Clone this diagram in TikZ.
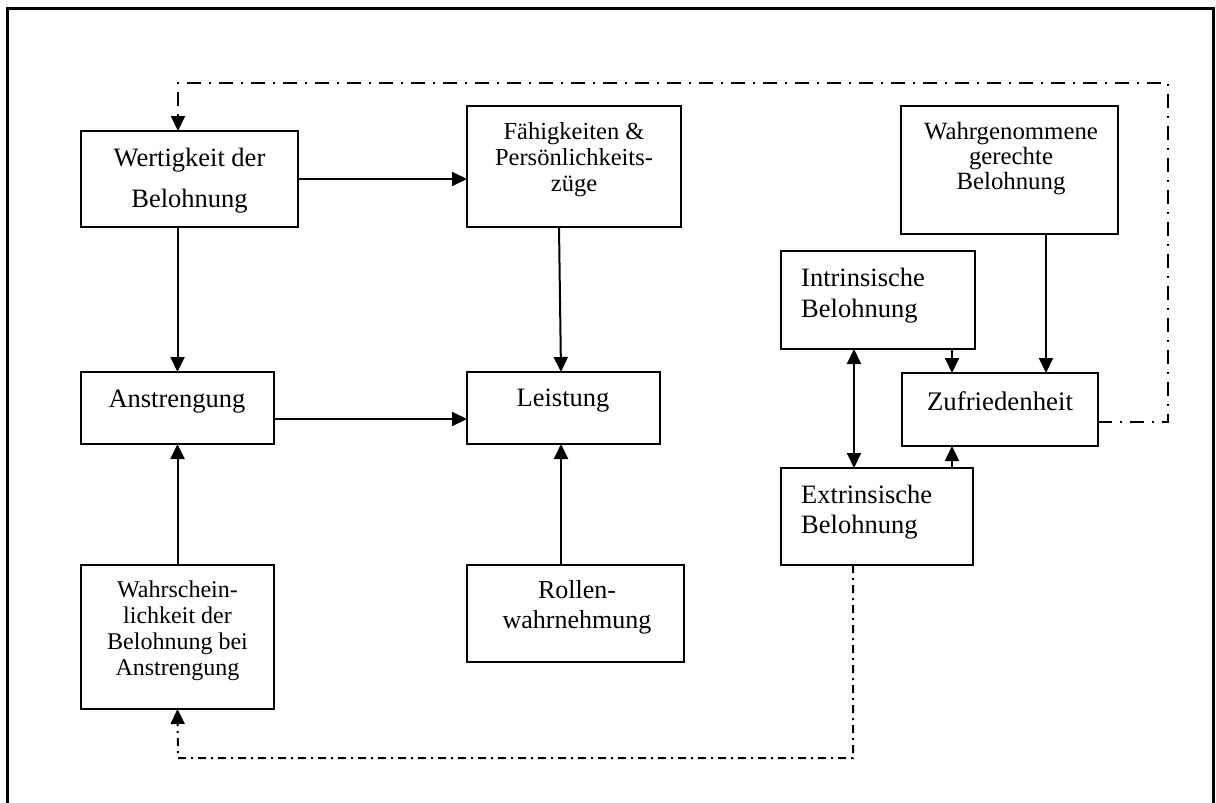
\documentclass[tikz,border=0pt]{standalone}
\usepackage{fontspec}
\setmainfont{Liberation Serif}
\usetikzlibrary{arrows.meta}
\begin{document}
\begin{tikzpicture}[x=1pt,y=-1pt,
  box/.style={draw,line width=2.4pt,rectangle,inner sep=0pt,outer sep=0pt},
  big/.style={inner sep=0pt,align=center,font=\fontsize{26.5}{30}\selectfont},
  small/.style={inner sep=0pt,align=center,font=\fontsize{24.5}{26}\selectfont},
  arr/.style={line width=2pt,-{Triangle[length=15pt,width=14pt]}},
  dbl/.style={line width=2pt,{Triangle[length=15pt,width=14pt]}-{Triangle[length=15pt,width=14pt]}},
  ddtop/.style={line width=2pt,dash pattern=on 14pt off 8pt on 2pt off 8pt},
  ddbot/.style={line width=2pt,dash pattern=on 8pt off 5pt on 2pt off 5pt}]
\useasboundingbox (0,0) rectangle (1216,803);
\draw[line width=3pt] (7.5,840) -- (7.5,8.5) -- (1213.5,8.5) -- (1213.5,840);

% boxes
\node[box,minimum width=217pt,minimum height=96pt] (wert) at (189.5,179) {};
\node[box,minimum width=214pt,minimum height=121pt] (faeh) at (574,166.5) {};
\node[box,minimum width=217pt,minimum height=128pt] (wahrg) at (1009.5,170) {};
\node[box,minimum width=194pt,minimum height=98pt] (intr) at (878,300) {};
\node[box,minimum width=193pt,minimum height=72pt] (anst) at (177.5,408) {};
\node[box,minimum width=193pt,minimum height=72pt] (leist) at (563.5,408) {};
\node[box,minimum width=196pt,minimum height=73pt] (zuf) at (1000,409.5) {};
\node[box,minimum width=192pt,minimum height=97pt] (extr) at (877,516.5) {};
\node[box,minimum width=193pt,minimum height=144pt] (wahrs) at (177.5,637) {};
\node[box,minimum width=217pt,minimum height=97pt] (rollen) at (575.5,613.5) {};

% texts
\node[big,font=\fontsize{26.5}{41}\selectfont] (twert) at (189.5,181) {Wertigkeit der\\Belohnung};
\node[small] (tfaeh) at (574,160) {Fähigkeiten \&\\Persönlichkeits-\\züge};
\node[small,font=\fontsize{24.8}{25}\selectfont] (twahrg) at (1011,159) {Wahrgenommene\\gerechte\\Belohnung};
\node[big,align=left,anchor=west,font=\fontsize{26.5}{31}\selectfont] (tintr) at (801,296) {Intrinsische\\Belohnung};
\node[big] (tanst) at (177,402) {Anstrengung};
\node[big] (tleist) at (563,401) {Leistung};
\node[big,font=\fontsize{26.8}{30}\selectfont] (tzuf) at (1000,401) {Zufriedenheit};
\node[big,align=left,anchor=west,font=\fontsize{26.5}{30}\selectfont] (textr) at (801,512) {Extrinsische\\Belohnung};
\node[small,font=\fontsize{24}{26}\selectfont] (twahrs) at (177.5,631) {Wahrschein-\\lichkeit der\\Belohnung bei\\Anstrengung};
\node[big,font=\fontsize{26}{30}\selectfont] (trollen) at (577,607) {Rollen-\\wahrnehmung};

% solid connectors
\draw[arr] (anst.north |- wert.south) -- (anst.north);
\draw[arr] (wahrs.north) -- (anst.south);
\draw[arr] (wert.east) -- (wert.east -| faeh.west);
\draw[arr] ([yshift=-11pt]anst.east) -- ([yshift=-11pt]leist.west);
\draw[arr] ([xshift=-15pt]faeh.south) -- ([xshift=-2.5pt]leist.north);
\draw[arr] ([xshift=-14.5pt]rollen.north) -- ([xshift=-2.5pt]leist.south);
\draw[arr] ([xshift=74pt]intr.south) -- ([xshift=-48pt]zuf.north);
\draw[arr] ([xshift=36.5pt]wahrg.south) -- ([xshift=46pt]zuf.north);
\draw[arr] ([xshift=75pt]extr.north) -- ([xshift=-48pt]zuf.south);
\draw[dbl] ([xshift=-24pt]intr.south) -- ([xshift=-23pt]extr.north);

% dash-dot feedback loops
\coordinate (tr) at (1168,83);
\coordinate (bl) at (178,758);
\draw[ddtop,-{Triangle[length=15pt,width=14pt]}] ([yshift=-12.5pt]zuf.east) -| (tr) -| ([xshift=-11.5pt]wert.north);
\draw[ddbot,-{Triangle[length=15pt,width=14pt]}] ([xshift=-24pt]extr.south) |- (bl) -- (wahrs.south);
\end{tikzpicture}
\end{document}
